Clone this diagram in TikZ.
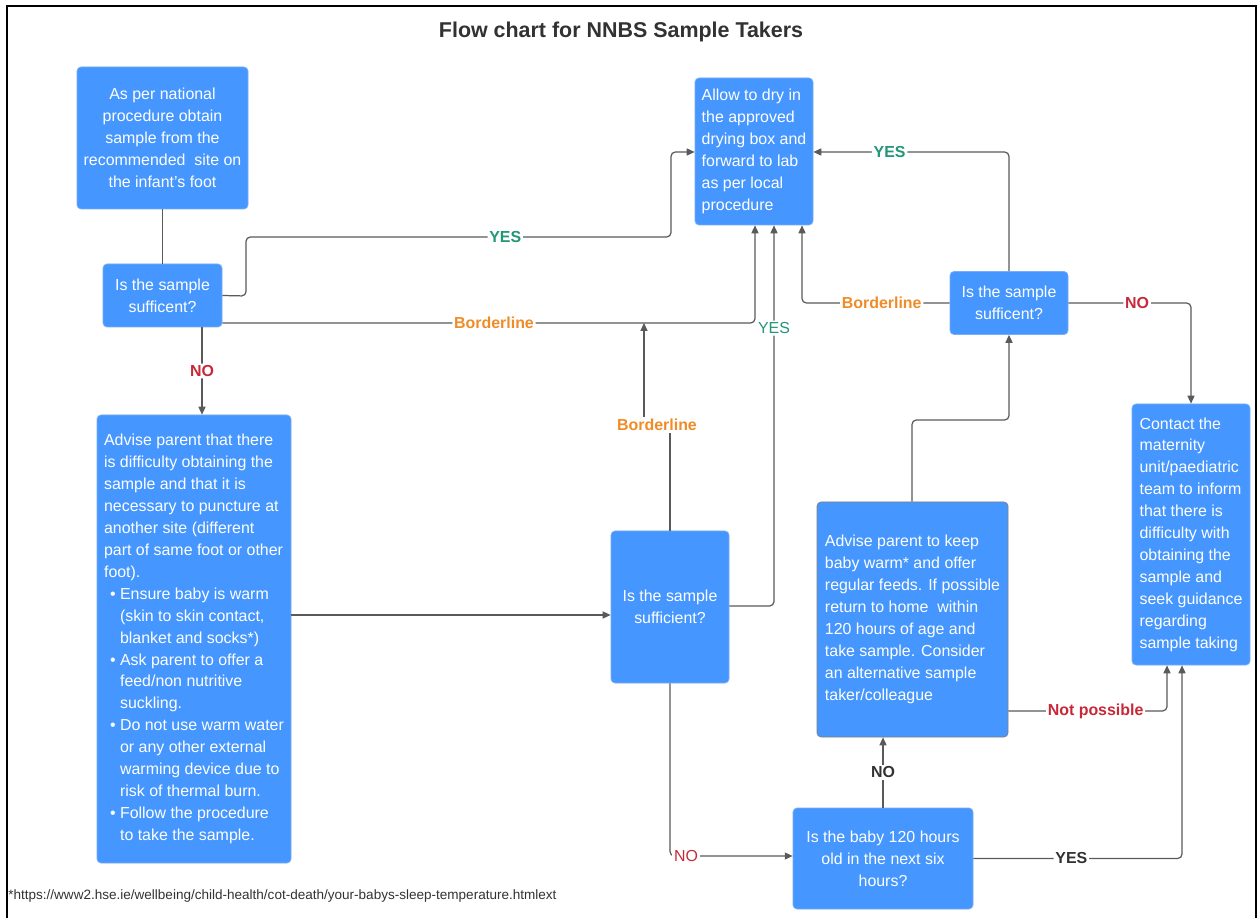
\documentclass[tikz,border=0pt]{standalone}
\usepackage{fontspec}
\setmainfont{Liberation Sans}
\usetikzlibrary{arrows.meta}
\definecolor{boxblue}{RGB}{69,150,254}
\definecolor{boxedge}{RGB}{120,175,250}
\definecolor{ygreen}{RGB}{34,150,120}
\definecolor{borange}{RGB}{240,140,40}
\definecolor{nred}{RGB}{200,40,55}
\definecolor{ldark}{RGB}{50,50,50}
\definecolor{conn}{RGB}{90,90,90}
\newlength\pxu \setlength\pxu{0.02cm}
\newcommand\bul{\hspace*{6\pxu}\makebox[10\pxu][l]{\textbullet}}
\newcommand\ind{\hspace*{16\pxu}}
\begin{document}
\begin{tikzpicture}[x=0.02cm,y=-0.02cm,
  box/.style={draw=boxedge, fill=boxblue, rounded corners=2.3pt, text=white,
    font=\fontsize{9.07pt}{12.47pt}\selectfont, inner sep=0pt, line width=0.4pt},
  cbox/.style={box, align=center},
  lbox/.style={box, align=left},
  line/.style={draw=conn, line width=0.7pt, rounded corners=2.5pt},
  arr/.style={line, -{Triangle[length=4.5pt,width=4pt]}},
  lbl/.style={fill=white, inner sep=1pt, font=\fontsize{9.07pt}{10pt}\selectfont\bfseries},
  lbln/.style={fill=white, inner sep=1pt, font=\fontsize{9.07pt}{10pt}\selectfont}]
\useasboundingbox (0,0) rectangle (1258,918);
\fill[white] (0,0) rectangle (1258,918);
% frame
\draw[black, line width=1.2pt] (7,918) -- (7,6) -- (1256,6) -- (1256,918);
% title
\node[font=\fontsize{12.2pt}{14pt}\selectfont\bfseries, text=ldark] (title) at (621,32) {Flow chart for NNBS Sample Takers};
% boxes
\node[cbox, minimum width=171\pxu, minimum height=142\pxu] (A) at (162.5,138)
  {As per national\\procedure obtain\\sample from the\\recommended\ \ site on\\the infant's foot};
\node[cbox, minimum width=119\pxu, minimum height=63\pxu] (B) at (162.5,295.5)
  {Is the sample\\sufficent?};
\node[lbox, minimum width=194\pxu, minimum height=448\pxu] (C) at (194,639)
  {Advise parent that there\\is difficulty obtaining the\\sample and that it is\\necessary to puncture at\\another site (different\\part of same foot or other\\foot).\\
   \bul Ensure baby is warm\\\ind(skin to skin contact,\\\ind blanket and socks*)\\
   \bul Ask parent to offer a\\\ind feed/non nutritive\\\ind suckling.\\
   \bul Do not use warm water\\\ind or any other external\\\ind warming device due to\\\ind risk of thermal burn.\\
   \bul Follow the procedure\\\ind to take the sample.};
\node[lbox, minimum width=118\pxu, minimum height=147\pxu] (D) at (754,151.5)
  {Allow to dry in\\the approved\\drying box and\\forward to lab\\as per local\\procedure};
\node[cbox, minimum width=118\pxu, minimum height=152\pxu] (E) at (670,607)
  {Is the sample\\sufficient?};
\node[cbox, minimum width=118\pxu, minimum height=63\pxu] (F) at (1009,303)
  {Is the sample\\sufficent?};
\node[lbox, minimum width=118\pxu, minimum height=261\pxu] (G) at (1191,534.5)
  {Contact the\\maternity\\unit/paediatric\\team to inform\\that there is\\difficulty with\\obtaining the\\sample and\\seek guidance\\regarding\\sample taking};
\node[lbox, draw=gray, minimum width=191\pxu, minimum height=235\pxu] (H) at (912.5,619.5)
  {Advise parent to keep\\baby warm* and offer\\regular feeds. If possible\\return to home\ \ within\\120 hours of age and\\take sample. Consider\\an alternative sample\\taker/colleague};
\node[cbox, minimum width=180\pxu, minimum height=101\pxu] (I) at (883,858.5)
  {Is the baby 120 hours\\old in the next six\\hours?};
% footnote
\node[anchor=west, inner sep=0pt, font=\fontsize{7.7pt}{9pt}\selectfont, text=ldark] (fn) at (8,896)
  {*https://www2.hse.ie/wellbeing/child-health/cot-death/your-babys-sleep-temperature.htmlext};
% connectors
\draw[line] (A.south) -- (B.north);
\draw[arr] (B.east) -- (246,296) -- (246,237)
  -- node[lbl, text=ygreen, pos=0.61] {YES} (671,237) -- (671,152) -- (D.west |- 0,152);
\draw[arr] (B.east |- 0,323) -- node[lbl, text=borange, pos=0.51] {Borderline} (755,323) -- (755,0 |- D.south);
\coordinate (bl) at (644,323);
\draw[arr] (202,0 |- B.south) -- node[lbl, text=nred] {NO} (202,0 |- C.north);
\draw[arr] (C.east |- 0,615) -- (E.west |- 0,615);
\draw[line, rounded corners=0pt] (E.north) -- (670,425) -- (644,425);
\draw[arr, rounded corners=0pt] (644,425) -- (bl);
\node[lbl, text=borange] (blab) at (657,425) {Borderline};
\draw[arr] (E.east |- 0,606) -- (774,606) -- node[lbln, text=ygreen, pos=0.73] {YES} (774,0 |- D.south);
\draw[arr] (E.south) -- (670,856) -- (I.west |- 0,856);
\node[lbln, text=nred] (nolab) at (686,856) {NO};
\draw[arr] (883,0 |- I.north) -- node[lbl, text=ldark] {NO} (883,0 |- H.south);
\draw[arr] (912,0 |- H.north) -- (912,420) -- (1009,420) -- (F.south);
\draw[arr] (F.north) -- (1009,152) -- node[lbl, text=ygreen, pos=0.61] {YES} (D.east |- 0,152);
\draw[arr] (F.west) -- node[lbl, text=borange, pos=0.46] {Borderline} (802,303) -- (802,0 |- D.south);
\draw[arr] (F.east) -- node[lbl, text=nred, pos=0.56] {NO} (1191,303) -- (1191,0 |- G.north);
\draw[arr] (H.east |- 0,711) -- node[lbl, text=nred, pos=0.55] {Not possible} (1167,711) -- (1167,0 |- G.south);
\draw[arr] (I.east) -- node[lbl, text=ldark, pos=0.47] {YES} (1182,858.5) -- (1182,0 |- G.south);
\end{tikzpicture}
\end{document}
